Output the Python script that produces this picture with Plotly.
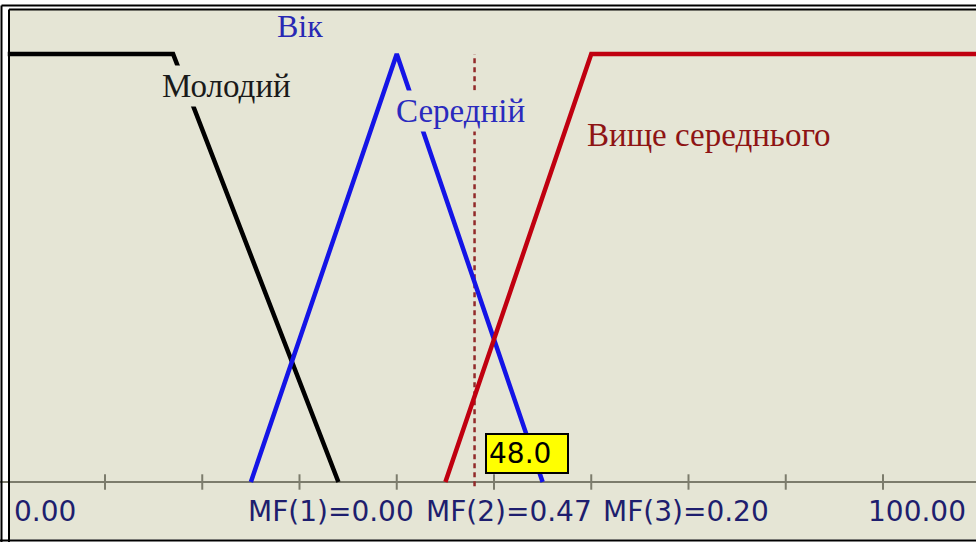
import numpy as np
import plotly.graph_objects as go

# Membership functions for the linguistic variable "Вік" (age), universe 0..100
young_x = [0, 17, 34]
young_y = [1, 1, 0]
middle_x = [25, 40, 55]
middle_y = [0, 1, 0]
upper_x = [45, 60, 100]
upper_y = [0, 1, 1]

term_names = ["Молодий", "Середній", "Вище середнього"]
var_name = "Вік"
input_value = 48.0
tick_values = [10, 20, 30, 40, 50, 60, 70, 80, 90]
range_labels = ["0.00", "100.00"]

W, H = 976, 542
BG = "#E5E5D5"
AXIS = "#7C7C6C"
NAVY = "#1E1E6E"


def px(x):
    return x / W


def py(y):
    return 1 - y / H


mf_values = [
    float(np.interp(input_value, young_x, young_y)),
    float(np.interp(input_value, middle_x, middle_y)),
    float(np.interp(input_value, upper_x, upper_y)),
]

fig = go.Figure()

# horizontal axis line with tick marks
fig.add_trace(go.Scatter(x=[-2, 102], y=[0, 0], mode="lines",
                         line=dict(color=AXIS, width=2), hoverinfo="skip"))
fig.add_trace(go.Scatter(x=tick_values, y=[0] * len(tick_values), mode="markers",
                         marker=dict(symbol="line-ns", size=11,
                                     line=dict(color=AXIS, width=2)),
                         hoverinfo="skip"))

# current input marker
fig.add_trace(go.Scatter(x=[input_value, input_value], y=[-0.01, 1], mode="lines",
                         line=dict(color="#922A2A", width=2.5, dash="5px,4px"),
                         hoverinfo="skip"))

fig.add_trace(go.Scatter(x=young_x, y=young_y, mode="lines",
                         line=dict(color="#000000", width=4.5), hoverinfo="skip"))
fig.add_trace(go.Scatter(x=middle_x, y=middle_y, mode="lines",
                         line=dict(color="#1414E6", width=4.5), hoverinfo="skip"))
fig.add_trace(go.Scatter(x=upper_x, y=upper_y, mode="lines",
                         line=dict(color="#C00010", width=4.5), hoverinfo="skip"))

serif = "Liberation Serif"
sans = "DejaVu Sans"


def label(cx, cy, text, color, family, size, bg=None, anchor="center"):
    d = dict(x=px(cx), y=py(cy), xref="paper", yref="paper", xanchor=anchor,
             yanchor="middle", text=text, showarrow=False,
             font=dict(family=family, size=size, color=color))
    if bg:
        d.update(bgcolor=bg, borderpad=2)
    return d


ann = [
    # variable name and term labels (background hides the curve behind them)
    label(300, 26, var_name, "#2828B4", serif, 32),
    label(226, 86, term_names[0], "#1A1A1A", serif, 33, bg=BG),
    label(460, 111, term_names[1], "#2A2ABE", serif, 33, bg=BG),
    label(709, 135, term_names[2], "#8E1414", serif, 33, bg=BG),
    # range readouts
    label(12, 511, range_labels[0], NAVY, sans, 28, anchor="left"),
    label(968, 511, range_labels[1], NAVY, sans, 28, anchor="right"),
]
for i, (cx, v) in enumerate(zip([331, 509, 686], mf_values), start=1):
    ann.append(label(cx, 511, f"MF({i})={v:.2f}", NAVY, sans, 28))

# value box at the current input
ann.append(dict(x=input_value, y=0, xref="x", yref="y", xanchor="left", yanchor="bottom",
                xshift=10, yshift=8, text=f"{input_value:.1f}", showarrow=False,
                bgcolor="#FFFF00", bordercolor="#000000", borderwidth=2, borderpad=2,
                width=76, align="left",
                font=dict(family=sans, size=28, color="#000000")))

shapes = [
    # panel background
    dict(type="rect", xref="paper", yref="paper", x0=px(10), x1=1, y0=py(539.5), y1=py(10),
         fillcolor=BG, line=dict(width=0), layer="below"),
    # double frame
    dict(type="line", xref="paper", yref="paper", x0=px(1.5), x1=1, y0=py(5.5), y1=py(5.5),
         line=dict(color="black", width=2), layer="above"),
    dict(type="line", xref="paper", yref="paper", x0=px(9), x1=1, y0=py(9.5), y1=py(9.5),
         line=dict(color="black", width=2), layer="above"),
    dict(type="line", xref="paper", yref="paper", x0=px(1.5), x1=px(1.5), y0=py(5.5), y1=0,
         line=dict(color="black", width=2), layer="above"),
    dict(type="line", xref="paper", yref="paper", x0=px(9), x1=px(9), y0=py(9.5), y1=0,
         line=dict(color="black", width=2), layer="above"),
    dict(type="line", xref="paper", yref="paper", x0=0, x1=1, y0=py(540.5), y1=py(540.5),
         line=dict(color="black", width=2), layer="above"),
]

x0_px, x_scale = 7.75, 9.725
y1_px, y0_px = 54, 482
y_scale = y0_px - y1_px

fig.update_layout(
    width=W, height=H,
    margin=dict(l=0, r=0, t=0, b=0),
    paper_bgcolor="white",
    plot_bgcolor="rgba(0,0,0,0)",
    showlegend=False,
    xaxis=dict(range=[-x0_px / x_scale, (W - x0_px) / x_scale], visible=False, fixedrange=True),
    yaxis=dict(range=[-(H - y0_px) / y_scale, 1 + y1_px / y_scale], visible=False, fixedrange=True),
    annotations=ann,
    shapes=shapes,
)

fig.write_html("out.html", config={"displayModeBar": False})
